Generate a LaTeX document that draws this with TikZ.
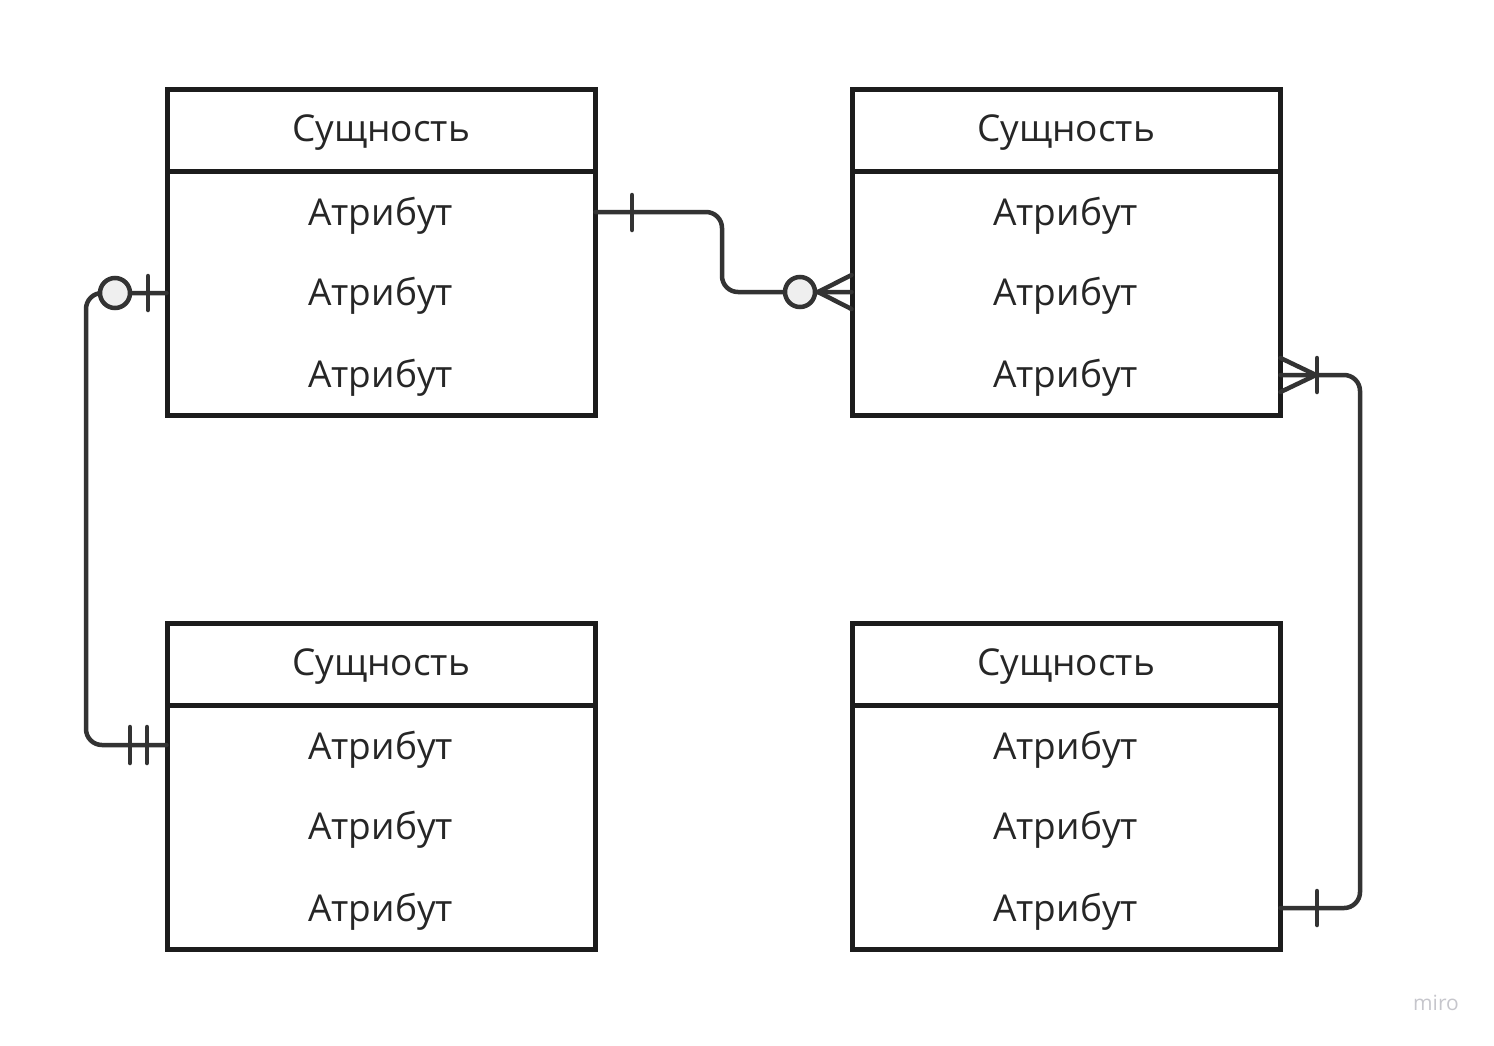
\documentclass[tikz,border=0pt]{standalone}
\usepackage{fontspec}
\setmainfont{Open Sans}
\usetikzlibrary{calc}
\definecolor{boxline}{HTML}{1C1C1C}
\definecolor{relline}{HTML}{333333}
\definecolor{dotfill}{HTML}{EFEFEF}
\definecolor{wmark}{HTML}{C6C6CC}
\begin{document}
\begin{tikzpicture}[x=1pt,y=-1pt]
	\tikzstyle{entity_head} = [draw=boxline, line width=5pt, minimum width=428pt, minimum height=82pt, inner sep=0pt]
	\tikzstyle{entity_body} = [draw=boxline, line width=5pt, minimum width=428pt, minimum height=244pt, inner sep=0pt]
	\tikzstyle{label_text} = [text=black!85, font=\fontsize{37}{44}\selectfont, yshift=-3pt]
	\tikzstyle{rel_line} = [draw=relline, line width=4.5pt, line cap=round]
	\tikzstyle{rel_dot} = [circle, draw=relline, fill=dotfill, line width=4.5pt, minimum size=30pt, inner sep=0pt]

	\useasboundingbox (0,0) rectangle (1494,1045);

%------------------------------------------------------------
	\node[entity_body] (b1) at (381,293) {};
	\node[entity_head] (h1) at (381,130) {};
	\node[label_text] at (h1) {Сущность};
	\node[label_text] (a11) at (381,213) {Атрибут};
	\node[label_text] (a12) at (381,293) {Атрибут};
	\node[label_text] (a13) at (381,375) {Атрибут};

%------------------------------------------------------------

	\node[entity_body] (b2) at (1066,293) {};
	\node[entity_head] (h2) at (1066,130) {};
	\node[label_text] at (h2) {Сущность};
	\node[label_text] (a21) at (1066,213) {Атрибут};
	\node[label_text] (a22) at (1066,293) {Атрибут};
	\node[label_text] (a23) at (1066,375) {Атрибут};

%------------------------------------------------------------

	\node[entity_body] (b3) at (381,827) {};
	\node[entity_head] (h3) at (381,664) {};
	\node[label_text] at (h3) {Сущность};
	\node[label_text] (a31) at (381,747) {Атрибут};
	\node[label_text] (a32) at (381,827) {Атрибут};
	\node[label_text] (a33) at (381,909) {Атрибут};

%------------------------------------------------------------

	\node[entity_body] (b4) at (1066,827) {};
	\node[entity_head] (h4) at (1066,664) {};
	\node[label_text] at (h4) {Сущность};
	\node[label_text] (a41) at (1066,747) {Атрибут};
	\node[label_text] (a42) at (1066,827) {Атрибут};
	\node[label_text] (a43) at (1066,909) {Атрибут};

%------------------------------------------------------------
% b1 -- b3 : zero or one / exactly one
	\coordinate (p1) at ($(b1.west |- 0,293)+(2,0)$);
	\coordinate (p3) at ($(b3.west |- 0,745)+(2,0)$);
	\draw[rel_line, rounded corners=16pt] (p1) -- (86,293) |- (p3);
	\draw[rel_line] (148,276) -- (148,310);
	\node[rel_dot] (d1) at (115,293) {};
	\draw[rel_line] (130,727) -- (130,763);
	\draw[rel_line] (147,727) -- (147,763);

% b1 -- b2 : one / zero or many
	\coordinate (q1) at ($(b1.east |- 0,212)+(-2,0)$);
	\coordinate (q2) at ($(b2.west |- 0,292)+(2,0)$);
	\draw[rel_line, rounded corners=16pt] (q1) -- (722,212) |- (q2);
	\draw[rel_line] (632,195) -- (632,230);
	\draw[rel_line] (818,292) -- ($(q2)+(0,-17)$);
	\draw[rel_line] (818,292) -- ($(q2)+(0,17)$);
	\node[rel_dot] (d2) at (800,292) {};

% b2 -- b4 : one or many / one
	\coordinate (r2) at ($(b2.east |- 0,375)+(-2,0)$);
	\coordinate (r4) at ($(b4.east |- 0,908)+(-2,0)$);
	\draw[rel_line, rounded corners=16pt] (r2) -- (1360,375) |- (r4);
	\draw[rel_line] (1316,375) -- ($(r2)+(0,-17)$);
	\draw[rel_line] (1316,375) -- ($(r2)+(0,17)$);
	\draw[rel_line] (1317,358) -- (1317,392);
	\draw[rel_line] (1317,891) -- (1317,925);

%------------------------------------------------------------
	\node[text=wmark, font=\fontsize{21}{24}\selectfont] (wm) at (1436,1003) {miro};

\end{tikzpicture}
\end{document}
